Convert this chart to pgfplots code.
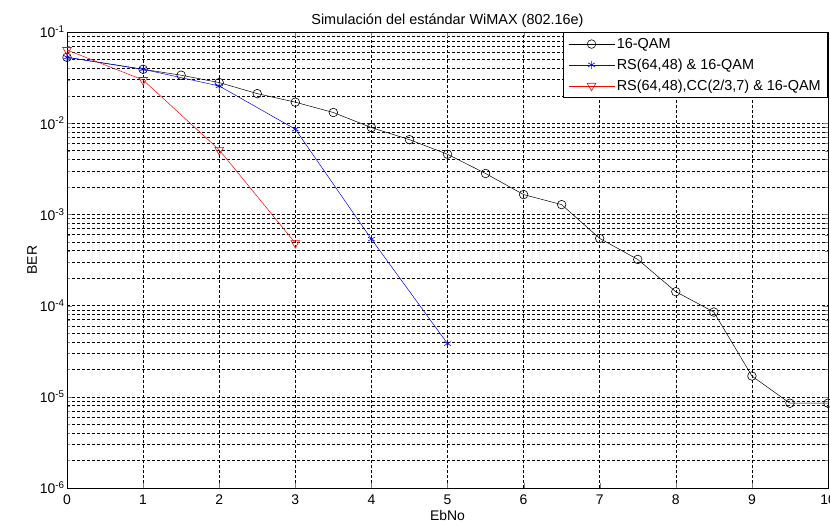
\documentclass[border=0pt]{standalone}
\usepackage{pgfplots}
\pgfplotsset{compat=1.18}
\usepackage{fontspec}
\setmainfont{Liberation Sans}

\pgfplotstableread{
x y
0 0.0528
1 0.0390
1.5 0.0336
2 0.0279
2.5 0.0211
3 0.0170
3.5 0.0131
4 0.00895
4.5 0.0066
5 0.00457
5.5 0.00281
6 0.00165
6.5 0.00128
7 0.000545
7.5 0.000321
8 0.000142
8.5 0.000085
9 0.0000169
9.5 0.0000085
10 0.0000085
}\qam

\pgfplotstableread{
x y
0 0.0528
1 0.0390
2 0.0256
3 0.0086
4 0.000536
5 0.0000383
}\rsqam

\pgfplotstableread{
x y
0 0.0635
1 0.0298
2 0.0051
3 0.000485
}\rsccqam

\begin{document}
\begin{tikzpicture}
\begin{semilogyaxis}[
  name=ax,
  scale only axis,
  width=761bp, height=456bp,
  xmin=0, xmax=10, ymin=1e-6, ymax=1e-1,
  xtick={0,1,...,10},
  ytick={1e-6,1e-5,1e-4,1e-3,1e-2,1e-1},
  yticklabels={10\textsuperscript{-6},10\textsuperscript{-5},10\textsuperscript{-4},10\textsuperscript{-3},10\textsuperscript{-2},10\textsuperscript{-1}},
  /pgf/number format/assume math mode=true,
  tick label style={font=\fontsize{14}{16}\selectfont},
  xticklabel style={yshift=-3bp},
  yticklabel style={xshift=1bp},
  tick align=inside,
  major tick length=5bp, minor tick length=3bp,
  grid=both,
  major grid style={black, line width=0.5pt, dash pattern=on 3bp off 2bp},
  minor grid style={black, line width=0.5pt, dash pattern=on 3bp off 2bp},
  axis line style={line width=0.8pt},
  title={Simulación del estándar WiMAX (802.16e)},
  title style={font=\fontsize{14.5}{16}\selectfont, yshift=-5bp},
  xlabel={EbNo}, ylabel={BER},
  label style={font=\fontsize{14}{16}\selectfont},
  xlabel style={yshift=1bp},
  ylabel style={yshift=-4bp},
  legend style={at={(1,1)}, anchor=north east, font=\fontsize{14.5}{16}\selectfont,
    draw=black, line width=0.6pt, inner xsep=5bp, inner ysep=4bp, row sep=5bp, cells={anchor=west}},
  legend image code/.code={%
    \draw[mark repeat=2, mark phase=2] plot coordinates {(0bp,0bp) (23bp,0bp) (46bp,0bp)};},
]
\addplot[black, line width=0.5pt, mark=o, mark size=4.3bp, mark options={line width=0.6pt}] table {\qam};
\addlegendentry{16-QAM}
\addplot[blue, line width=0.5pt, mark=asterisk, mark size=4bp, mark options={line width=0.6pt}] table {\rsqam};
\addlegendentry{RS(64,48) \& 16-QAM}
\addplot[red, line width=0.5pt, mark=triangle, mark size=5bp, mark options={rotate=180, line width=0.6pt}] table {\rsccqam};
\addlegendentry{RS(64,48),CC(2/3,7) \& 16-QAM}
\end{semilogyaxis}
\pgfresetboundingbox
\path[use as bounding box] ([xshift=-67bp, yshift=-39bp]ax.south west) rectangle ([xshift=2bp, yshift=32bp]ax.north east);
\end{tikzpicture}
\end{document}
